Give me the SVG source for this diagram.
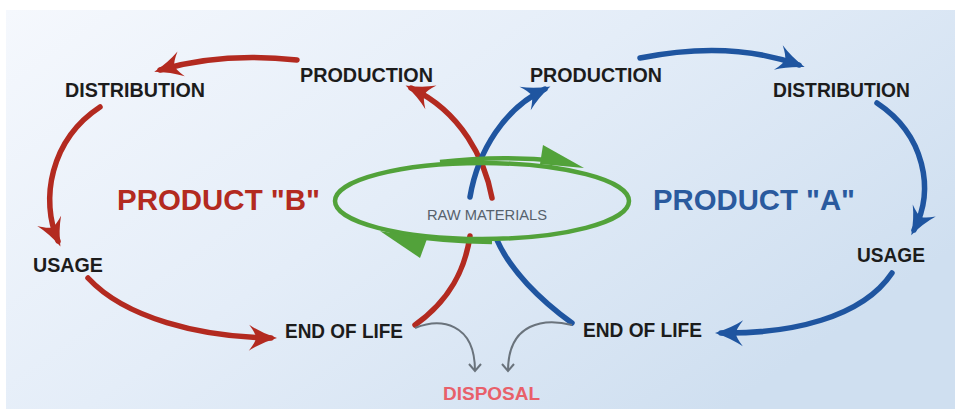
<svg xmlns="http://www.w3.org/2000/svg" width="955" height="409" viewBox="0 0 955 409">
<defs>
<linearGradient id="bg" x1="0" y1="0" x2="1" y2="0.6">
<stop offset="0" stop-color="#f5f8fd"/>
<stop offset="0.5" stop-color="#e4edf8"/>
<stop offset="1" stop-color="#cfdff0"/>
</linearGradient>
<marker id="ar" markerUnits="userSpaceOnUse" orient="auto" markerWidth="40" markerHeight="40" refX="0" refY="0" overflow="visible">
<path d="M6,0 Q-10,-5 -22,-13 Q-15,-4 -15,0 Q-15,4 -22,13 Q-10,5 6,0 Z" fill="#b32a20"/>
</marker>
<marker id="ab" markerUnits="userSpaceOnUse" orient="auto" markerWidth="40" markerHeight="40" refX="0" refY="0" overflow="visible">
<path d="M6,0 Q-10,-5 -22,-13 Q-15,-4 -15,0 Q-15,4 -22,13 Q-10,5 6,0 Z" fill="#1f55a0"/>
</marker>
<marker id="ag" markerUnits="userSpaceOnUse" orient="auto" markerWidth="20" markerHeight="20" refX="0" refY="0" overflow="visible">
<path d="M-7,-6 L0,0 L-7,6" fill="none" stroke="#6a737c" stroke-width="2"/>
</marker>
</defs>
<style>
.lbl{font-family:"Liberation Sans",Arial,sans-serif;font-weight:bold;font-size:19.5px;fill:#1c1c1c}
.big{font-family:"Liberation Sans",Arial,sans-serif;font-weight:bold;font-size:30px}
.red{fill:none;stroke:#b32a20;stroke-width:5.5;stroke-linecap:round}
.blue{fill:none;stroke:#1f55a0;stroke-width:5.5;stroke-linecap:round}
.grey{fill:none;stroke:#6a737c;stroke-width:2}
.green{fill:none;stroke:#52a23a;stroke-width:4.5}
</style>
<rect x="6" y="10" width="949" height="399" fill="url(#bg)"/>

<g id="connectors">
<path class="red" d="M492,198 C485,160 462,112 411,88" marker-end="url(#ar)"/>
<path class="red" d="M297,60 Q222,52 160,70" marker-end="url(#ar)"/>
<path class="red" d="M100,107 C50,140 40,200 58,241" marker-end="url(#ar)"/>
<path class="red" d="M88,278 C125,318 200,337 271,338" marker-end="url(#ar)"/>
<path class="red" d="M415,325 C450,300 465,270 470,236"/>
<path class="blue" d="M470,197 C478,150 505,108 545,89" marker-end="url(#ab)"/>
<path class="blue" d="M640,58 Q730,40 799,65" marker-end="url(#ab)"/>
<path class="blue" d="M877,103 C925,135 935,190 914,230" marker-end="url(#ab)"/>
<path class="blue" d="M892,273 C862,318 790,334 721,333" marker-end="url(#ab)"/>
<path class="blue" d="M572,323 C540,300 510,270 497,240"/>
<path class="grey" d="M415,328 C440,318 475,322 475,371" marker-end="url(#ag)"/>
<path class="grey" d="M572,325 C545,318 508,322 508,371" marker-end="url(#ag)"/>
</g>

<g id="raw-materials">
<ellipse class="green" cx="482" cy="201" rx="147" ry="38"/>
<path class="green" d="M440,162 Q500,155 560,161"/>
<polygon points="543,145 584,168 540,164" fill="#52a23a"/>
<path class="green" d="M492,242 Q440,241 392,234"/>
<polygon points="380,231 427,239 420,258" fill="#52a23a"/>
<text x="487" y="220" text-anchor="middle" font-family="Liberation Sans, Arial, sans-serif" font-size="14" fill="#56616c" textLength="120" lengthAdjust="spacingAndGlyphs">RAW MATERIALS</text>
</g>

<g id="b-production"><text class="lbl" x="300" y="82" textLength="133" lengthAdjust="spacingAndGlyphs">PRODUCTION</text></g>
<g id="b-distribution"><text class="lbl" x="65" y="97" textLength="140" lengthAdjust="spacingAndGlyphs">DISTRIBUTION</text></g>
<g id="b-usage"><text class="lbl" x="33" y="272" textLength="70" lengthAdjust="spacingAndGlyphs">USAGE</text></g>
<g id="b-endoflife"><text class="lbl" x="285" y="338" textLength="118" lengthAdjust="spacingAndGlyphs">END OF LIFE</text></g>
<g id="product-b"><text class="big" x="117" y="210" fill="#b32a20" textLength="203" lengthAdjust="spacingAndGlyphs">PRODUCT "B"</text></g>

<g id="a-production"><text class="lbl" x="530" y="82" textLength="132" lengthAdjust="spacingAndGlyphs">PRODUCTION</text></g>
<g id="a-distribution"><text class="lbl" x="773" y="97" textLength="137" lengthAdjust="spacingAndGlyphs">DISTRIBUTION</text></g>
<g id="a-usage"><text class="lbl" x="857" y="262" textLength="68" lengthAdjust="spacingAndGlyphs">USAGE</text></g>
<g id="a-endoflife"><text class="lbl" x="583" y="337" textLength="119" lengthAdjust="spacingAndGlyphs">END OF LIFE</text></g>
<g id="product-a"><text class="big" x="653" y="210" fill="#2a5a9e" textLength="202" lengthAdjust="spacingAndGlyphs">PRODUCT "A"</text></g>

<g id="disposal"><text x="443" y="400" font-family="Liberation Sans, Arial, sans-serif" font-weight="bold" font-size="18" fill="#e8606a" textLength="97" lengthAdjust="spacingAndGlyphs">DISPOSAL</text></g>
</svg>
